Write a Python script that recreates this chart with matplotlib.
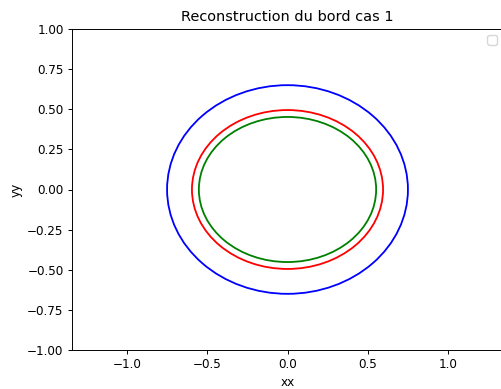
import matplotlib
matplotlib.use("Agg")
import matplotlib.pyplot as plt
from matplotlib.patches import Ellipse
import warnings

# ellipses: centre, half-width, half-height
names = ["bord 1", "bord 2", "bord 3"]
colors = ["blue", "red", "green"]
cx = [0.0, 0.0, 0.0]
cy = [0.0, 0.0, 0.0]
rx = [0.75, 0.595, 0.552]
ry = [0.65, 0.495, 0.452]

s = 0.868  # scale from the default 640x480 figure
plt.rcParams["font.size"] = 10 * s
plt.rcParams["axes.linewidth"] = 0.8 * s
plt.rcParams["xtick.major.width"] = 0.8 * s
plt.rcParams["ytick.major.width"] = 0.8 * s
plt.rcParams["xtick.major.size"] = 3.5 * s
plt.rcParams["ytick.major.size"] = 3.5 * s
plt.rcParams["axes.labelpad"] = 4.0 * s
plt.rcParams["xtick.major.pad"] = 3.5 * s
plt.rcParams["ytick.major.pad"] = 3.5 * s

fig = plt.figure(figsize=(5.01, 3.89), dpi=100)
ax = fig.add_axes([72 / 501, 1 - 350 / 389, 431 / 501, 321 / 389])

for i in range(len(names)):
    e = Ellipse((cx[i], cy[i]), 2 * rx[i], 2 * ry[i], fill=False,
                edgecolor=colors[i], linewidth=1.5 * s)
    ax.add_patch(e)

ax.set_xlim(-1.342, 1.342)
ax.set_ylim(-1.0, 1.0)
ax.set_xticks([-1.0, -0.5, 0.0, 0.5, 1.0])
ax.set_yticks([-1.0, -0.75, -0.5, -0.25, 0.0, 0.25, 0.5, 0.75, 1.0])
ax.set_title("Reconstruction du bord cas 1")
ax.set_xlabel("xx")
ax.set_ylabel("yy")

with warnings.catch_warnings():
    warnings.simplefilter("ignore")
    ax.legend(loc="upper right")

fig.savefig("out.png", dpi=100)
